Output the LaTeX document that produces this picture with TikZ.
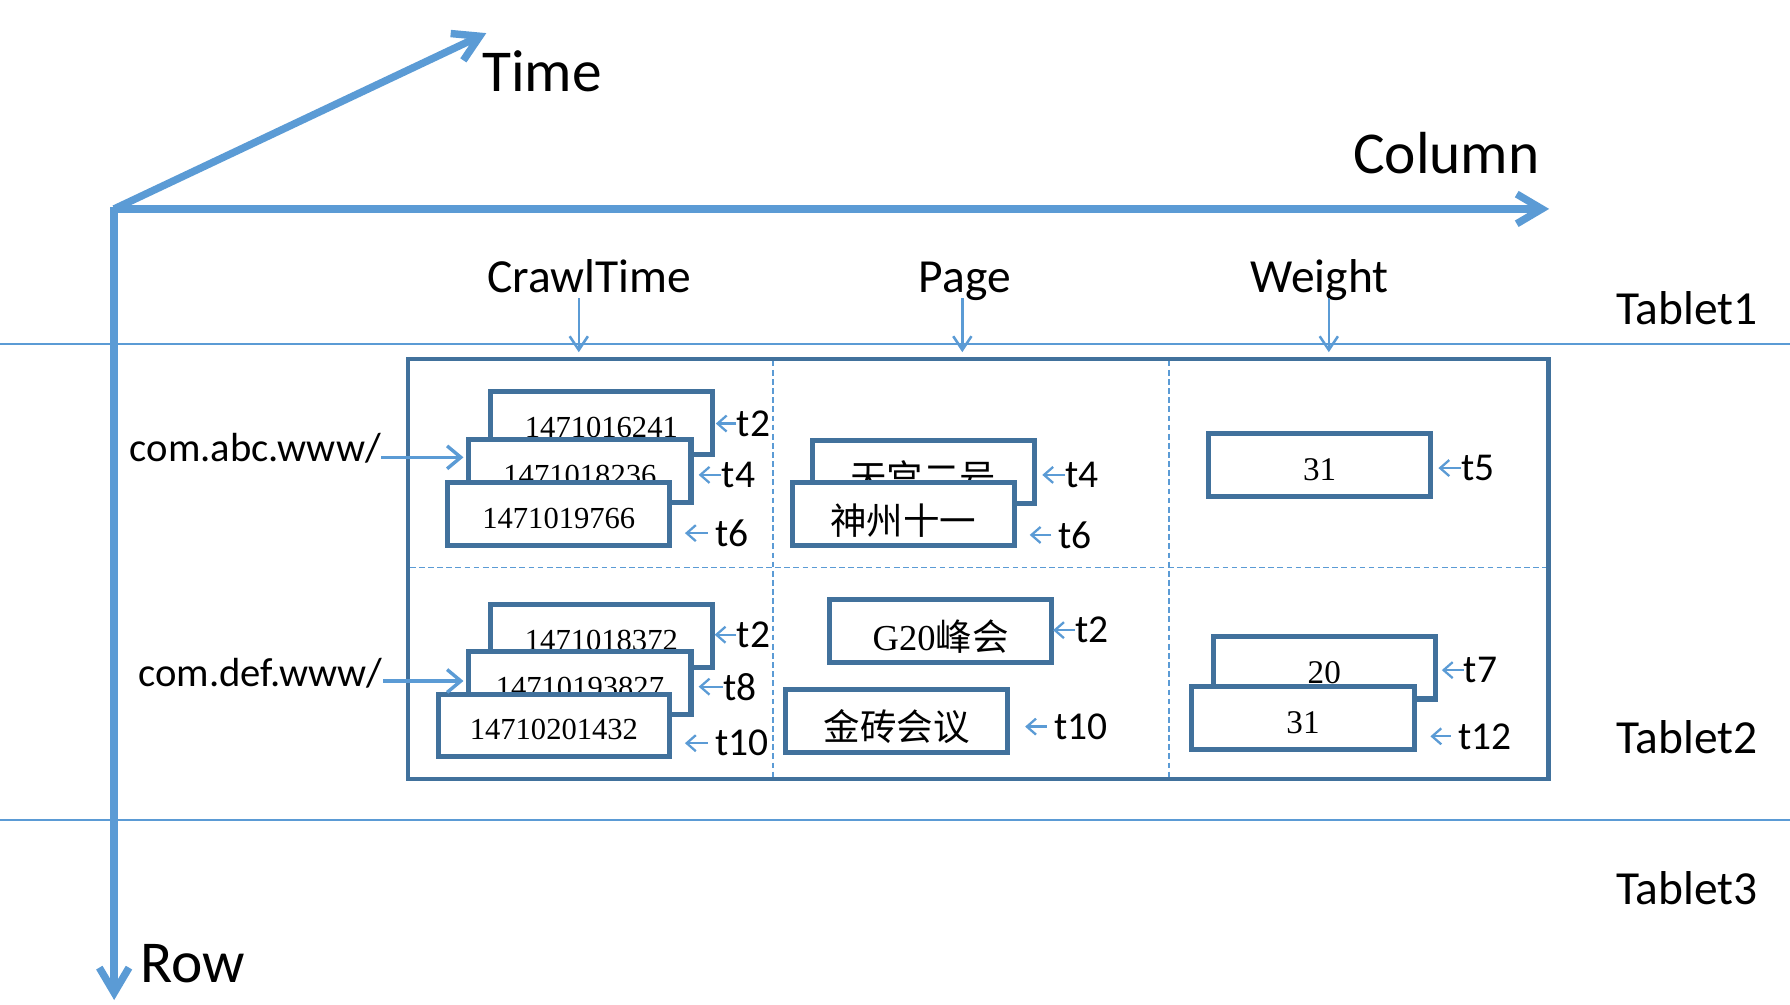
\documentclass[tikz,border=0pt]{standalone}
\usepackage{fontspec}
\setmainfont{Carlito}
\newfontfamily\numfont{Liberation Serif}
\newfontfamily\cjkfont{Noto Sans CJK SC}
\usetikzlibrary{arrows.meta,positioning}
\definecolor{axisblue}{HTML}{5B9BD5}
\definecolor{boxblue}{HTML}{41719C}
\begin{document}
\begin{tikzpicture}[x=0.5pt,y=-0.5pt,
  axis/.style={axisblue,line width=3.25pt,-{Straight Barb[length=11pt,width=13pt]}},
  tabline/.style={axisblue,line width=0.8pt},
  cellline/.style={axisblue,line width=0.7pt,dash pattern=on 2.5pt off 1.5pt},
  cellbox/.style={draw=boxblue,fill=white,line width=2.2pt,minimum width=97.3pt,minimum height=27.5pt,inner sep=0pt,text depth=0pt},
  num/.style={cellbox,text height=12.5pt,font=\numfont\fontsize{13.4}{15}\selectfont},
  cjk/.style={cellbox,text height=17.5pt,font=\cjkfont\fontsize{16}{18}\selectfont},
  tlab/.style={anchor=west,inner sep=0pt,font=\fontsize{17.3}{20}\selectfont},
  tarr/.style={axisblue,line width=1pt,-{Straight Barb[length=4pt,width=7pt]}},
  rarr/.style={axisblue,line width=1.5pt,-{Straight Barb[length=6pt,width=10pt]}},
  harr/.style={axisblue,line width=1.1pt,-{Straight Barb[length=6pt,width=8pt]},shorten >=2pt},
  big/.style={inner sep=0pt,font=\fontsize{26}{30}\selectfont},
  head/.style={inner sep=0pt,text depth=0.25em,font=\fontsize{20.8}{24}\selectfont},
  rowlab/.style={inner sep=0pt,anchor=base east,font=\fontsize{17.8}{20}\selectfont}]
\useasboundingbox (0,0) rectangle (1568,880);

\draw[tabline] (0,301) -- (1568,301);
\draw[tabline] (0,718) -- (1568,718);
\node[head,anchor=base east] (tab1) at (1540,284) {Tablet1};
\node[head,anchor=base east] (tab2) at (1540,660) {Tablet2};
\node[head,anchor=base east] (tab3) at (1540,792) {Tablet3};

\draw[cellline] (677,316) -- (677,681);
\draw[cellline] (1024,316) -- (1024,681);
\draw[cellline] (359,497) -- (1355,497);
\node[draw=boxblue,line width=2pt,minimum width=499.5pt,minimum height=184pt,inner sep=0pt] (table) at (857,498.5) {};

\node[head,anchor=base] (hcrawl) at (516,256) {CrawlTime};
\node[head,anchor=base] (hpage) at (845,256) {Page};
\node[head,anchor=base] (hweight) at (1156,256) {Weight};
\draw[harr] (hcrawl.south -| 507,0) -- (table.north -| 507,0);
\draw[harr] (hpage.south -| 843,0) -- (table.north -| 843,0);
\draw[harr] (hweight.south -| 1164,0) -- (table.north -| 1164,0);

\node[num] (ca1) at (526.8,370.8) {1471016241};
\node[num] (cb1) at (508,412.9) {1471018236};
\node[num] (cc1) at (489.5,450.1) {1471019766};
\node[num] (ca2) at (526.8,557) {1471018372};
\node[num] (cb2) at (508,598.2) {14710193827};
\node[num,minimum width=101pt] (cc2) at (485.2,635.5) {14710201432};

\node[cjk] (pa1) at (808.8,413.4) {天宫二号};
\node[cjk] (pb1) at (791.3,450.4) {神州十一};
\node[cjk] (pa2) at (824,552.7) {{\numfont G20}峰会};
\node[cjk] (pb2) at (785.5,631.5) {金砖会议};

\node[num,text height=13.5pt,font=\numfont\fontsize{14.5}{16}\selectfont] (wa1) at (1156,407) {31};
\node[num,text height=13.5pt,font=\numfont\fontsize{14.5}{16}\selectfont] (wa2) at (1160,584.8) {20};
\node[num,text height=13.5pt,font=\numfont\fontsize{14.5}{16}\selectfont] (wb2) at (1141.4,628.9) {31};

\node[tlab] (ct2a) at (645,371) {t2};
\node[tlab] (ct4a) at (632,416) {t4};
\node[tlab] (ct6a) at (626,467) {t6};
\node[tlab] (ct2b) at (645,556) {t2};
\node[tlab] (ct8b) at (633,601.5) {t8};
\node[tlab] (ct10b) at (626,651) {t10};
\node[tlab] (pt4a) at (933,416) {t4};
\node[tlab] (pt6a) at (927,468.6) {t6};
\node[tlab] (pt2b) at (941.5,552) {t2};
\node[tlab] (pt10b) at (923,636.5) {t10};
\node[tlab] (wt5) at (1280,410) {t5};
\node[tlab] (wt7) at (1282,587) {t7};
\node[tlab] (wt12) at (1277,645) {t12};

\draw[tarr] (ct2a.west) -- +(-18,0);
\draw[tarr] (ct4a.west) -- +(-20,0);
\draw[tarr,shorten <=3pt] (ct6a.west) -- +(-26,0);
\draw[tarr] (ct2b.west) -- +(-19,0);
\draw[tarr] (ct8b.west) -- +(-21,0);
\draw[tarr,shorten <=3pt] (ct10b.west) -- +(-26,0);
\draw[tarr] (pt4a.west) -- +(-20,0);
\draw[tarr,shorten <=3pt] (pt6a.west) -- +(-25,0);
\draw[tarr] (pt2b.west) -- +(-19,0);
\draw[tarr,shorten <=3pt] (pt10b.west) -- +(-25,0);
\draw[tarr] (wt5.west) -- +(-20,0);
\draw[tarr] (wt7.west) -- +(-19,0);
\draw[tarr,shorten <=3pt] (wt12.west) -- +(-24,0);

\node[rowlab] (rowa) at (334,404.4) {com.abc.www/};
\node[rowlab] (rowb) at (335.5,601.5) {com.def.www/};
\coordinate (ina) at (406,400.6);
\coordinate (inb) at (406,596.5);
\draw[rarr] (ina -| rowa.east) -- (ina);
\draw[rarr] (inb -| rowb.east) -- (inb);

\coordinate (o) at (100,183);
\coordinate (timeend) at (426,29);
\coordinate (colend) at (1357,183);
\coordinate (rowend) at (100,876);
\draw[axis] (o) -- (timeend);
\draw[axis] (o) -- (colend);
\draw[axis] (100,181) -- (rowend);
\node[big,anchor=base west] (time) at (422,80) {Time};
\node[big,anchor=base east] (column) at (1349,152) {Column};
\node[big,anchor=base west] (row) at (123,861) {Row};
\end{tikzpicture}
\end{document}
